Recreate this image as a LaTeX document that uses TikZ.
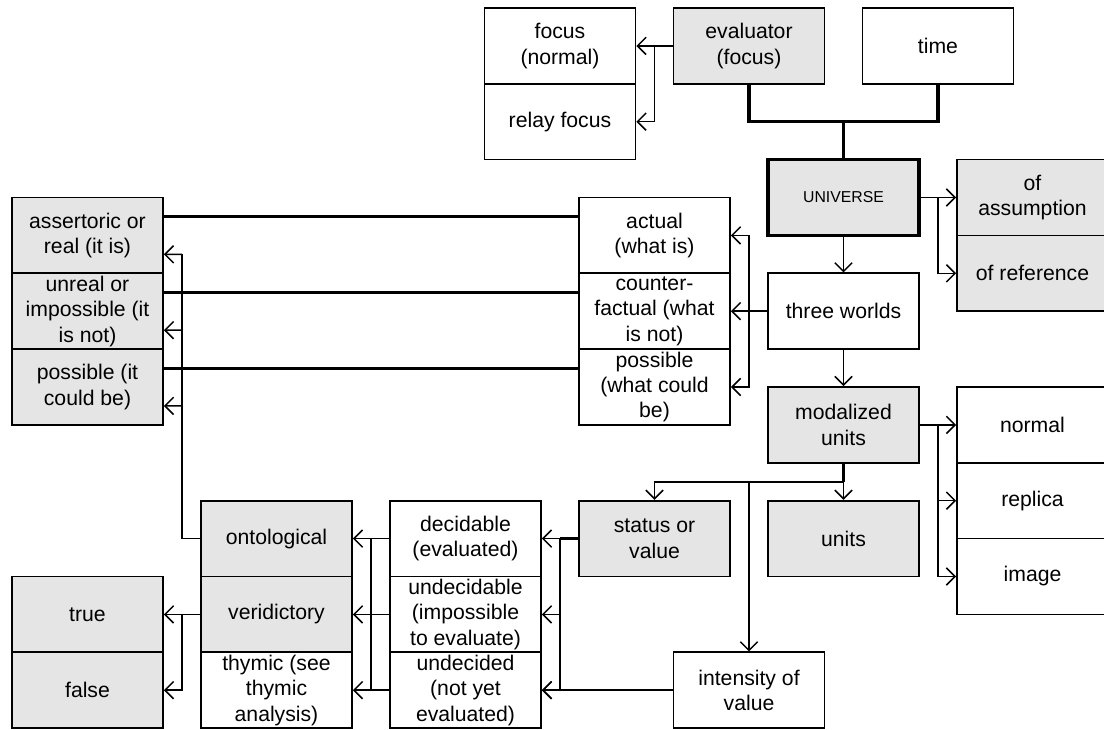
\documentclass[tikz,border=0pt]{standalone}
\usepackage{fontspec}
\setmainfont{Liberation Sans}
\usetikzlibrary{arrows.meta}
\definecolor{boxgray}{HTML}{E5E5E5}
\begin{document}
\begin{tikzpicture}[x=0.75pt,y=-0.75pt,
  box/.style={draw=black, line width=1.3pt, minimum width=113.25pt, minimum height=56.85pt,
    inner sep=0pt, align=center, font=\fontsize{15.9pt}{19.1pt}\selectfont},
  gbox/.style={box, fill=boxgray},
  wbox/.style={box, fill=white},
  conn/.style={line width=1.15pt},
  stub/.style={line width=1.8pt},
  heavy/.style={line width=2.3pt},
  arr/.style={conn, -{Straight Barb[length=6.5pt,width=13pt]}}
]
\clip (0,0) rectangle (1104,729);
\fill[white] (0,0) rectangle (1104,729);

% top
\node[wbox] (focusn) at (560,45.9) {focus\\(normal)};
\node[wbox] (relay) at (560,121.7) {relay focus};
\node[gbox] (evaluator) at (749,45.9) {evaluator\\(focus)};
\node[wbox] (time) at (938,45.9) {time};
\node[gbox, line width=2.5pt, font=\fontsize{11.85pt}{14pt}\selectfont] (universe) at (843.5,197.5) {UNIVERSE};
\node[gbox] (ofassump) at (1032.5,197.5) {of\\assumption};
\node[gbox] (ofref) at (1032.5,273.3) {of reference};

% left column
\node[gbox] (assert) at (87.5,235.4) {assertoric or\\real (it is)};
\node[gbox] (unreal) at (87.5,311.2) {unreal or\\impossible (it\\is not)};
\node[gbox] (possA) at (87.5,387) {possible (it\\could be)};

% worlds
\node[wbox] (actual) at (654.5,235.4) {actual\\(what is)};
\node[wbox] (counter) at (654.5,311.2) {counter-\\factual (what\\is not)};
\node[wbox] (possE) at (654.5,387) {possible\\(what could\\be)};
\node[wbox] (three) at (843.5,311.2) {three worlds};

% modalized
\node[gbox] (modal) at (843.5,424.9) {modalized\\units};
\node[wbox] (normal) at (1032.5,424.9) {normal};
\node[wbox] (replica) at (1032.5,500.7) {replica};
\node[wbox] (image) at (1032.5,576.5) {image};
\node[gbox] (status) at (654.5,538.6) {status or\\value};
\node[gbox] (units) at (843.5,538.6) {units};
\node[wbox] (intensity) at (749,690.2) {intensity of\\value};

% bottom left
\node[wbox] (decid) at (465.5,538.6) {decidable\\(evaluated)};
\node[wbox] (undecid) at (465.5,614.4) {undecidable\\(impossible\\to evaluate)};
\node[wbox] (undecided) at (465.5,690.2) {undecided\\(not yet\\evaluated)};
\node[gbox] (onto) at (276.5,538.6) {ontological};
\node[gbox] (verid) at (276.5,614.4) {veridictory};
\node[wbox] (thymic) at (276.5,690.2) {thymic (see\\thymic\\analysis)};
\node[gbox] (true) at (87.5,614.4) {true};
\node[gbox] (false) at (87.5,690.2) {false};

% coordinates
\coordinate (b1) at (654.5,45.9);
\coordinate (j1) at (843.5,121.7);
\coordinate (b2) at (938,197.5);
\coordinate (b3) at (749,311.2);
\coordinate (b4) at (182,538.6);
\coordinate (b4t) at (182,254.35);
\coordinate (b4m) at (182,330.15);
\coordinate (b4l) at (182,405.95);
\coordinate (b5) at (938,424.9);
\coordinate (j2) at (843.5,481.75);
\coordinate (j3) at (749,481.75);
\coordinate (b6) at (560,538.6);
\coordinate (b7t) at (371.25,538.6);
\coordinate (b7b) at (371.25,690.2);
\coordinate (b8) at (182,614.4);

% evaluator -> focus
\draw[arr] (evaluator.west) -- (focusn.east);
\draw[arr] (b1) |- (relay.east);
% evaluator/time -> universe
\draw[heavy] (evaluator.south) |- (j1) -- (universe.north);
\draw[heavy] (time.south) |- (j1);
% universe -> of ...
\draw[arr] (universe.east) -- (ofassump.west);
\draw[arr] (b2) |- (ofref.west);
\draw[arr] (universe.south) -- (three.north);
% three worlds
\draw[stub] (three.west) -- (b3);
\draw[arr] (b3) -- (counter.east);
\draw[arr] (b3) |- (actual.east);
\draw[arr] (b3) |- (possE.east);
% heavy links worlds <-> left column
\draw[heavy] ([yshift=14.2pt]assert.east) -- ([yshift=14.2pt]actual.west);
\draw[heavy] ([yshift=14.2pt]unreal.east) -- ([yshift=14.2pt]counter.west);
\draw[heavy] ([yshift=14.2pt]possA.east) -- ([yshift=14.2pt]possE.west);
% ontological -> left column
\draw[conn] (onto.west) -- (b4) -- (b4t);
\draw[arr] (b4t) -- ([yshift=-14.2pt]assert.east);
\draw[arr] (b4m) -- ([yshift=-14.2pt]unreal.east);
\draw[arr] (b4l) -- ([yshift=-14.2pt]possA.east);
\draw[arr] (three.south) -- (modal.north);
% modalized -> normal etc.
\draw[stub] (modal.east) -- (b5);
\draw[arr] (b5) -- (normal.west);
\draw[arr] (b5) |- (replica.west);
\draw[arr] (b5) |- (image.west);
% modalized -> status, units, intensity
\draw[stub] (modal.south) -- (j2);
\draw[arr] (j2) -- (units.north);
\draw[arr] (j2) -| (status.north);
\draw[arr] (j3) -- (intensity.north);
% status -> decidable etc.
\draw[stub] (status.west) -- (b6);
\draw[arr] (b6) -- (decid.east);
\draw[arr] (b6) |- (undecid.east);
\draw[arr] (b6) |- (undecided.east);
\draw[arr] (intensity.west) -- (undecided.east);
% decidable etc. -> ontological etc.
\draw[arr] (decid.west) -- (onto.east);
\draw[arr] (undecid.west) -- (verid.east);
\draw[arr] (undecided.west) -- (thymic.east);
\draw[conn] (b7t) -- (b7b);
% veridictory -> true / false
\draw[arr] (verid.west) -- (true.east);
\draw[arr] (b8) |- (false.east);
\end{tikzpicture}
\end{document}
